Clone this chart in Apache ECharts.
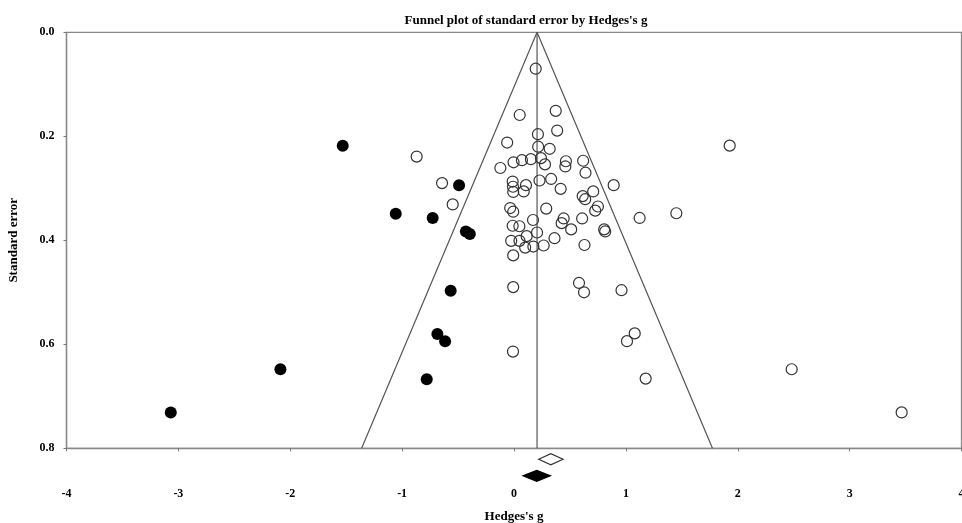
<!DOCTYPE html>
<html>
<head>
<meta charset="utf-8">
<script src="https://cdn.jsdelivr.net/npm/echarts@6/dist/echarts.min.js"></script>
<style>
html,body{margin:0;padding:0;background:#fff;}
#chart{width:962px;height:523px;}
</style>
</head>
<body>
<div id="chart"></div>
<script>
// Observed studies: Hedges's g and standard error
const observedG = [0.194,0.051,0.373,0.214,0.386,-0.061,0.216,0.319,0.241,-0.122,-0.004,0.071,0.151,0.277,0.464,0.459,0.618,0.639,0.228,0.332,-0.012,-0.009,-0.007,0.107,0.087,0.417,0.891,0.614,0.636,0.708,0.288,-0.034,-0.007,0.750,0.726,1.123,1.451,0.170,0.444,0.426,0.609,0.511,0.806,0.815,-0.012,0.048,0.206,0.113,-0.025,0.049,0.362,0.100,0.173,0.265,0.630,-0.007,-0.007,0.581,0.626,0.961,1.079,1.010,-0.009,1.177,2.482,3.465,1.928,-0.870,-0.643,-0.548];
const observedSE = [0.070,0.159,0.151,0.196,0.189,0.212,0.220,0.224,0.242,0.261,0.250,0.246,0.244,0.254,0.248,0.258,0.247,0.270,0.285,0.282,0.287,0.297,0.307,0.294,0.306,0.301,0.294,0.315,0.321,0.306,0.339,0.338,0.345,0.335,0.343,0.357,0.348,0.361,0.358,0.367,0.358,0.379,0.379,0.383,0.372,0.373,0.385,0.392,0.401,0.401,0.396,0.414,0.412,0.410,0.409,0.429,0.490,0.482,0.500,0.496,0.579,0.594,0.614,0.666,0.648,0.731,0.218,0.239,0.290,0.331];
// Imputed studies (trim and fill)
const imputedG = [-1.531,-0.491,-1.057,-0.727,-0.430,-0.395,-0.566,-0.685,-0.616,-0.780,-2.088,-3.068];
const imputedSE = [0.218,0.294,0.349,0.357,0.383,0.388,0.497,0.580,0.594,0.667,0.648,0.731];
// Funnel boundaries and mean line
const funnelG = [-1.362, 0.206, 1.774];
const funnelSE = [0.8, 0, 0.8];
const meanG = [0.206, 0.206];
const meanSE = [0, 0.8];
// Summary diamonds: [lower, point, upper, row]
const diamondLower = [0.221, 0.080];
const diamondPoint = [0.329, 0.203];
const diamondUpper = [0.438, 0.325];
const diamondRow = [0.821, 0.853];
const diamondFilled = [false, true];
// Axis ticks
const xTicks = [-4,-3,-2,-1,0,1,2,3,4];
const yTicks = [0.0,0.2,0.4,0.6,0.8];

const FONT = '"Liberation Serif", "Times New Roman", serif';
const zip = (a, b) => a.map((v, i) => [v, b[i]]);

const chart = echarts.init(document.getElementById('chart'), null, {renderer: 'canvas'});
chart.setOption({
  animation: false,
  backgroundColor: '#ffffff',
  title: {
    text: "Funnel plot of standard error by Hedges's g",
    left: 521, top: 9, textAlign: 'center',
    textStyle: {fontFamily: FONT, fontWeight: 'bold', fontSize: 13, color: '#000'}
  },
  grid: {left: 66.5, right: 0.5, top: 32.3, bottom: 74.7, show: true, borderColor: '#888', borderWidth: 1.3,
    containLabel: false, outerBoundsMode: 'none'},
  xAxis: {
    type: 'value', min: xTicks[0], max: xTicks[xTicks.length - 1], interval: 1,
    name: "Hedges's g", nameLocation: 'middle', nameGap: 62,
    nameTextStyle: {fontFamily: FONT, fontWeight: 'bold', fontSize: 13, color: '#000'},
    axisLine: {onZero: false, lineStyle: {color: '#888', width: 1.3}},
    axisTick: {show: true, inside: false, length: 3, lineStyle: {color: '#777'}},
    axisLabel: {margin: 40, fontFamily: FONT, fontWeight: 'bold', fontSize: 12, color: '#000',
      formatter: v => String(v)},
    splitLine: {show: false}
  },
  yAxis: {
    type: 'value', inverse: true, min: yTicks[0], max: yTicks[yTicks.length - 1], interval: 0.2,
    name: 'Standard error', nameLocation: 'middle', nameGap: 46,
    nameTextStyle: {fontFamily: FONT, fontWeight: 'bold', fontSize: 13, color: '#000'},
    axisLine: {onZero: false, lineStyle: {color: '#888', width: 1.3}},
    axisTick: {show: true, inside: false, length: 3, lineStyle: {color: '#777'}},
    axisLabel: {margin: 12, fontFamily: FONT, fontWeight: 'bold', fontSize: 12, color: '#000',
      formatter: v => v.toFixed(1)},
    splitLine: {show: false}
  },
  series: [
    {
      type: 'line', data: zip(funnelG, funnelSE), symbol: 'none', silent: true,
      lineStyle: {color: '#555', width: 1.2}, z: 1
    },
    {
      type: 'line', data: zip(meanG, meanSE), symbol: 'none', silent: true,
      lineStyle: {color: '#555', width: 1.2}, z: 1
    },
    {
      type: 'scatter', data: zip(observedG, observedSE), symbol: 'circle', symbolSize: 11,
      itemStyle: {color: 'rgba(255,255,255,0)', borderColor: '#333', borderWidth: 1.2, opacity: 1}, z: 3
    },
    {
      type: 'scatter', data: zip(imputedG, imputedSE), symbol: 'circle', symbolSize: 12,
      itemStyle: {color: '#000', borderColor: '#000', borderWidth: 0, opacity: 1}, z: 4
    },
    {
      type: 'custom', clip: false, z: 5,
      data: diamondPoint.map((p, i) => [diamondLower[i], p, diamondUpper[i], diamondRow[i], diamondFilled[i] ? 1 : 0]),
      encode: {x: [0, 1, 2], y: 3},
      renderItem: function (params, api) {
        const lo = api.coord([api.value(0), api.value(3)]);
        const mid = api.coord([api.value(1), api.value(3)]);
        const hi = api.coord([api.value(2), api.value(3)]);
        const h = 5.5;
        const filled = api.value(4) === 1;
        return {
          type: 'polygon',
          shape: {points: [[lo[0], lo[1]], [mid[0], mid[1] - h], [hi[0], hi[1]], [mid[0], mid[1] + h]]},
          style: {fill: filled ? '#000' : '#fff', stroke: filled ? '#000' : '#333', lineWidth: 1.2}
        };
      }
    }
  ]
});
</script>
</body>
</html>
